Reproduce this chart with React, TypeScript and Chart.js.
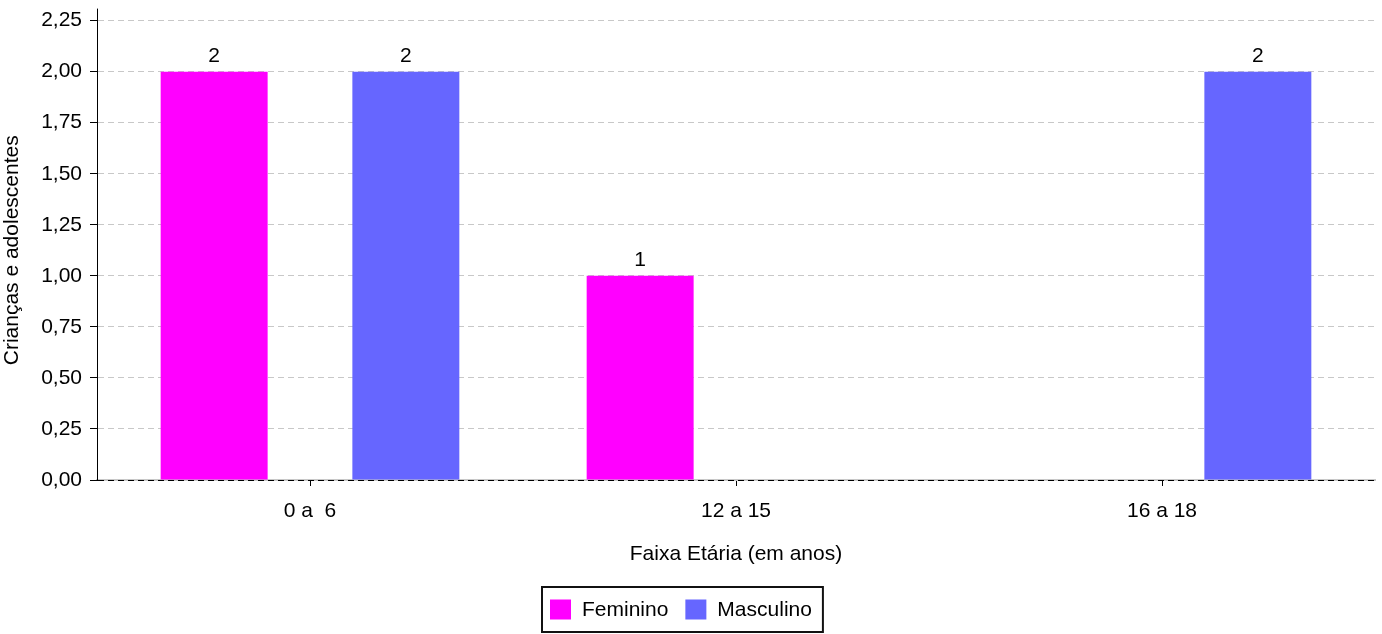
import React, { useEffect, useRef } from 'react';
import { Chart, registerables } from 'chart.js';

Chart.register(...registerables);

const categories = ['0 a  6', '12 a 15', '16 a 18'];
const feminino = [2, 1, 0];
const masculino = [2, 0, 2];
const seriesLabels = ['Feminino', 'Masculino'];
const seriesColors = ['#FF00FF', '#6666FF'];
const xTitle = 'Faixa Etária (em anos)';
const yTitle = 'Crianças e adolescentes';
const yMin = 0;
const yMax = 2.25;
const yStep = 0.25;

const FONT_FAMILY = "'Liberation Sans', Arial, sans-serif";
const FONT_SIZE = 21;

const valueLabelPlugin = {
  id: 'valueLabels',
  afterDatasetsDraw(chart: any) {
    const ctx = chart.ctx;
    ctx.save();
    ctx.font = `${FONT_SIZE}px ${FONT_FAMILY}`;
    ctx.fillStyle = '#000';
    ctx.textAlign = 'center';
    ctx.textBaseline = 'alphabetic';
    chart.data.datasets.forEach((ds: any, i: number) => {
      const meta = chart.getDatasetMeta(i);
      meta.data.forEach((bar: any, j: number) => {
        const v = ds.data[j];
        if (!v) return;
        ctx.fillText(String(v), bar.x, bar.y - 10);
      });
    });
    ctx.restore();
  },
};

const axisExtPlugin = {
  id: 'axisExt',
  afterDraw(chart: any) {
    const ctx = chart.ctx;
    const x = Math.round(chart.chartArea.left) + 0.5;
    ctx.save();
    ctx.strokeStyle = '#000';
    ctx.lineWidth = 1;
    ctx.beginPath();
    ctx.moveTo(x, chart.chartArea.top - 12);
    ctx.lineTo(x, chart.chartArea.top);
    ctx.stroke();
    ctx.restore();
  },
};

const boxLegendPlugin = {
  id: 'boxLegend',
  afterDraw(chart: any) {
    const ctx = chart.ctx;
    ctx.save();
    ctx.font = `${FONT_SIZE}px ${FONT_FAMILY}`;
    const left = 541;
    const top = 587;
    const height = 45;
    const padL = 9;
    const sw = 21;
    const gapSw = 11;
    const gapItem = 17;
    const padR = 10;
    let x = left + padL;
    const cy = top + height / 2;
    chart.data.datasets.forEach((ds: any, i: number) => {
      ctx.fillStyle = ds.backgroundColor;
      ctx.fillRect(x, cy - 10, sw, 20);
      x += sw + gapSw;
      ctx.fillStyle = '#000';
      ctx.textAlign = 'left';
      ctx.textBaseline = 'middle';
      ctx.fillText(ds.label, x, cy + 1);
      x += ctx.measureText(ds.label).width;
      if (i < chart.data.datasets.length - 1) x += gapItem;
    });
    const width = x + padR - left;
    ctx.strokeStyle = '#111';
    ctx.lineWidth = 2;
    ctx.strokeRect(left + 1, top, width, height);
    ctx.restore();
  },
};

export default function App() {
  const canvasRef = useRef<HTMLCanvasElement | null>(null);

  useEffect(() => {
    document.body.style.margin = '0';
    const canvas = canvasRef.current;
    if (!canvas) return;
    Chart.defaults.font.family = FONT_FAMILY;
    Chart.defaults.font.size = FONT_SIZE;
    Chart.defaults.color = '#000';

    const chart = new Chart(canvas, {
      type: 'bar',
      data: {
        labels: categories,
        datasets: [
          {
            label: seriesLabels[0],
            data: feminino,
            backgroundColor: seriesColors[0],
            borderWidth: 0,
            categoryPercentage: 0.9,
            barPercentage: 0.558,
          },
          {
            label: seriesLabels[1],
            data: masculino,
            backgroundColor: seriesColors[1],
            borderWidth: 0,
            categoryPercentage: 0.9,
            barPercentage: 0.558,
          },
        ],
      },
      options: {
        responsive: false,
        animation: false,
        devicePixelRatio: 1,
        layout: { padding: { top: 20, right: 7, bottom: 67, left: 0 } },
        plugins: {
          legend: { display: false },
          tooltip: { enabled: false },
          title: { display: false },
        },
        scales: {
          x: {
            afterFit: (s: any) => {
              s.height = 87;
            },
            grid: {
              display: true,
              drawOnChartArea: false,
              drawTicks: true,
              tickLength: 6,
              tickColor: '#000',
              offset: false,
            },
            border: { display: true, color: '#c8c8c8', width: 2, z: -1 },
            ticks: { padding: 13, color: '#000', font: { size: FONT_SIZE } },
            title: {
              display: true,
              text: xTitle,
              color: '#000',
              font: { size: FONT_SIZE },
              padding: { top: 0, bottom: 0 },
            },
          },
          y: {
            min: yMin,
            max: yMax,
            afterFit: (s: any) => {
              s.width = 97;
            },
            grid: {
              color: (c: any) => (c.tick && c.tick.value === 0 ? '#000' : '#c8c8c8'),
              tickColor: '#000',
              tickLength: 7,
              drawTicks: true,
            },
            border: { display: true, color: '#000', width: 1, dash: [6, 4] },
            ticks: {
              stepSize: yStep,
              padding: 8,
              color: '#000',
              font: { size: FONT_SIZE },
              callback: (v: any) => Number(v).toFixed(2).replace('.', ','),
            },
            title: {
              display: true,
              text: yTitle,
              color: '#000',
              font: { size: FONT_SIZE },
              padding: { top: 0, bottom: 0 },
            },
          },
        },
      },
      plugins: [valueLabelPlugin, axisExtPlugin, boxLegendPlugin],
    } as any);

    return () => {
      chart.destroy();
    };
  }, []);

  return (
    <div style={{ width: 1382, height: 634 }}>
      <canvas ref={canvasRef} width={1382} height={634} style={{ display: 'block' }} />
    </div>
  );
}
